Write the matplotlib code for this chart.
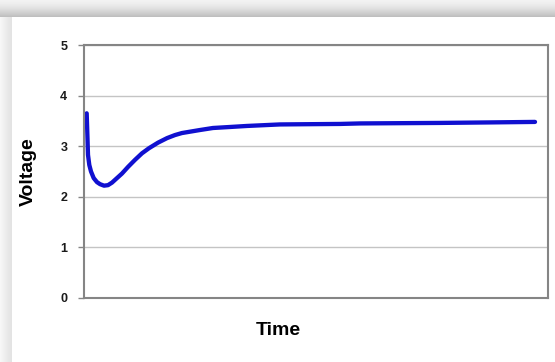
import numpy as np
import matplotlib
matplotlib.use("Agg")
import matplotlib.pyplot as plt

plt.rcParams['font.family'] = ['Liberation Sans', 'DejaVu Sans']

# values (time in arbitrary units 0..100)
time = [0.58, 0.75, 0.86, 1.14, 1.51, 2.09, 2.80, 3.45, 4.31, 5.17, 6.03,
        7.11, 8.19, 9.48, 10.99, 12.5, 14.0, 15.95, 17.9, 19.6, 21.1, 25.0,
        27.8, 31.5, 35.1, 42.2, 48.5, 55.2, 59.5, 68.1, 76.7, 87.5, 97.2]
voltage = [3.65, 3.16, 2.83, 2.63, 2.50, 2.37, 2.29, 2.25, 2.22, 2.23, 2.28,
           2.37, 2.46, 2.59, 2.73, 2.86, 2.96, 3.07, 3.16, 3.22, 3.26, 3.32,
           3.36, 3.38, 3.40, 3.43, 3.435, 3.44, 3.45, 3.455, 3.46, 3.47, 3.48]
y_ticks = [0, 1, 2, 3, 4, 5]

W, H = 555, 362
fig = plt.figure(figsize=(W / 100, H / 100), dpi=100)

# grey shadow frame behind the white panel
bg = np.ones((H, W))
top = 17
left = 12
for i in range(top):
    bg[i, :] = 0.95 - 0.22 * (i / top) ** 1.5
for j in range(left):
    bg[top:, j] = np.minimum(bg[top:, j], 0.97 - 0.09 * (j / left))
bg_ax = fig.add_axes([0, 0, 1, 1])
bg_ax.imshow(bg, cmap='gray', vmin=0, vmax=1, aspect='auto', interpolation='bilinear')
bg_ax.axis('off')

ax = fig.add_axes([84 / W, 1 - 298 / H, 464 / W, 253 / H])
ax.plot(time, voltage, color='#1010d0', linewidth=3.1,
        solid_capstyle='round', solid_joinstyle='round')

ax.set_xlim(0, 100)
ax.set_ylim(0, 5)
ax.set_yticks(y_ticks)
ax.set_xticks([])
ax.yaxis.grid(True, color='#c4c4c4', linewidth=1)
ax.set_axisbelow(True)
for s in ax.spines.values():
    s.set_color('#858585')
    s.set_linewidth(1.5)
ax.tick_params(axis='y', length=4, width=1, color='#858585', pad=8,
               labelsize=9, labelcolor='#1a1a1a')
for lbl in ax.get_yticklabels():
    lbl.set_fontweight('bold')

ax.set_ylabel('Voltage', fontsize=14, fontweight='bold')
ax.set_xlabel('Time', fontsize=14, fontweight='bold')
ax.yaxis.set_label_coords(-47 / 464, 0.5)
ax.xaxis.set_label_coords(194 / 464, -24 / 253)

fig.savefig('out.png', dpi=100)
